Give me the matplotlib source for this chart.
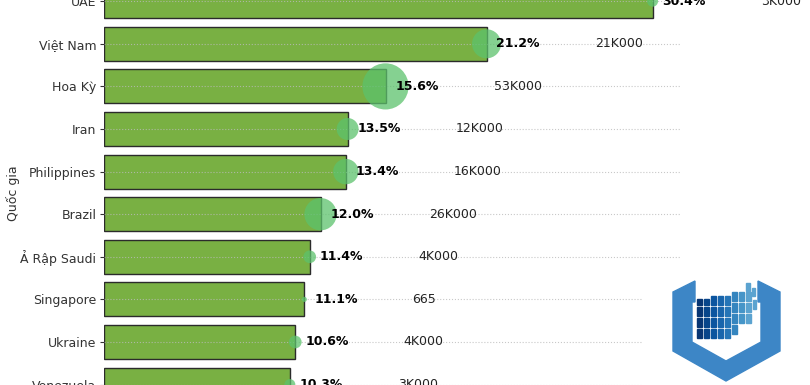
import numpy as np
import matplotlib
matplotlib.use("Agg")
import matplotlib.pyplot as plt
from matplotlib.patches import Polygon, Rectangle

# data
countries = ["UAE", "Việt Nam", "Hoa Kỳ", "Iran", "Philippines", "Brazil",
             "Ả Rập Saudi", "Singapore", "Ukraine", "Venezuela"]
rates = [30.4, 21.2, 15.6, 13.5, 13.4, 12.0, 11.4, 11.1, 10.6, 10.3]
counts = [3000, 21000, 53000, 12000, 16000, 26000, 4000, 665, 4000, 3000]
count_labels = ["3K000", "21K000", "53K000", "12K000", "16K000", "26K000",
                "4K000", "665", "4K000", "3K000"]

bar_color = "#79b043"
bubble_color = "#5cc26c"


def draw_logo(fig):
    # small building logo in the lower right corner
    lax = fig.add_axes([643 / 810, 0, 167 / 810, 110 / 385])
    lax.set_xlim(643, 810)
    lax.set_ylim(385, 275)
    lax.set_facecolor("white")
    lax.axis("off")
    lax.add_patch(Rectangle((643, 275), 167, 110, color="white", zorder=0))
    blue = "#3d86c6"
    outer = [(673, 292), (695, 281), (695, 302), (692, 302), (692, 342),
             (726, 361), (761, 342), (761, 302), (758, 302), (758, 281),
             (780, 292), (780, 351), (726, 381), (673, 351)]
    lax.add_patch(Polygon(outer, closed=True, color=blue, zorder=1))
    cols = [697, 704, 711, 718, 725, 732, 739, 746]
    rows = [296, 307, 318, 329]
    shades = plt.cm.Blues(np.linspace(0.98, 0.55, len(cols)))
    for j, cx in enumerate(cols):
        for k, ry in enumerate(rows):
            if j >= 6 and k == 3:
                continue
            dy = -4 if j >= 5 else 0
            lax.add_patch(Rectangle((cx, ry + dy + (3 if j < 2 and k == 0 else 0)),
                                    5, 9 - (3 if j < 2 and k == 0 else 0),
                                    color=shades[j], zorder=2))
    lax.add_patch(Rectangle((746, 283), 4, 8, color=shades[-1], zorder=2))
    lax.add_patch(Rectangle((752, 288), 3, 8, color=shades[-1], zorder=2))
    lax.add_patch(Rectangle((753, 300), 3, 9, color=shades[-1], zorder=2))


def main():
    fig = plt.figure(figsize=(8.1, 3.85), dpi=100)
    ax = fig.add_axes([104 / 810, -20.9 / 385, 576 / 810, 426 / 385])

    y = np.arange(len(countries))
    ax.barh(y, rates, height=0.8, color=bar_color, edgecolor="#2b2b2b",
            linewidth=1.0)
    ax.scatter(rates, y, s=np.array(counts) / 48, color=bubble_color,
               alpha=0.75, zorder=3, linewidths=0)

    for i, (r, lab) in enumerate(zip(rates, count_labels)):
        ax.text(r + 0.55, i, f"{r:.1f}%", va="center", ha="left",
                fontsize=9, fontweight="bold", color="black", zorder=4)
        ax.text(r + 6, i, lab, va="center", ha="left", fontsize=9,
                color="#222222", zorder=4)

    ax.set_yticks(y)
    ax.set_yticklabels(countries, fontsize=9, color="#333333")
    ax.set_ylim(9.5, -0.5)
    ax.set_xlim(0, max(rates) * 1.05)
    ax.set_ylabel("Quốc gia", fontsize=9, color="#333333")
    ax.yaxis.set_label_coords(-0.146, 0.5)
    ax.tick_params(axis="y", length=3, pad=2.5, color="#333333")
    ax.grid(axis="y", linestyle=":", color="#bbbbbb", alpha=0.8, linewidth=0.8)
    for side in ["left", "right", "top"]:
        ax.spines[side].set_visible(False)

    draw_logo(fig)
    fig.savefig("out.png", dpi=100)


if __name__ == "__main__":
    main()
